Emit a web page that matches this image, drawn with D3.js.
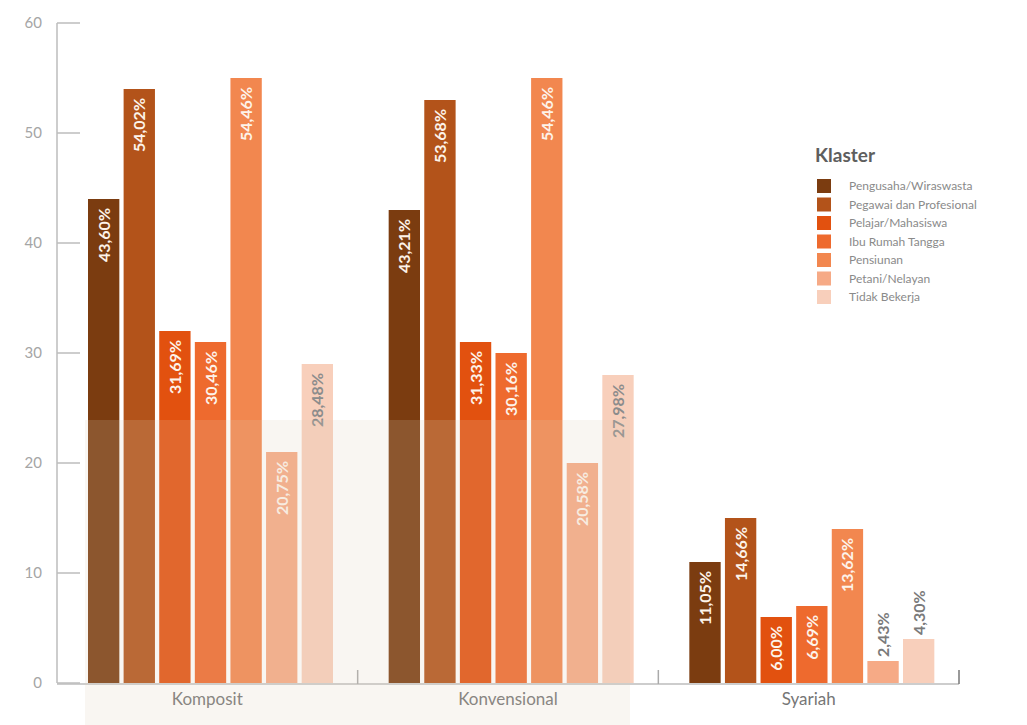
<!DOCTYPE html>
<html>
<head>
  <meta charset="UTF-8">
  <title>Klaster per Jenis</title>
  <script src="https://d3js.org/d3.v7.min.js"></script>
  <style>
    body {
      margin: 0;
      background: #fff;
      font-family: Lato, "Open Sans", sans-serif;
    }
    svg {
      display: block;
    }
    .tick-label {
      font-size: 15px;
      fill: #a5a5a5;
      text-anchor: end;
    }
    .cat-label {
      font-size: 17px;
      fill: #767676;
      text-anchor: middle;
    }
    .bar-label {
      font-size: 16px;
      font-weight: bold;
    }
    .legend-title {
      font-size: 19px;
      font-weight: bold;
      fill: #5e5e5e;
    }
    .legend-text {
      font-size: 12px;
      fill: #8a8a8a;
    }
  </style>
</head>
<body>

  <svg width="1027" height="725"></svg>

  <script>
    // categories and series
    const categories = ["Komposit", "Konvensional", "Syariah"];
    const klaster = [
      "Pengusaha/Wiraswasta",
      "Pegawai dan Profesional",
      "Pelajar/Mahasiswa",
      "Ibu Rumah Tangga",
      "Pensiunan",
      "Petani/Nelayan",
      "Tidak Bekerja"
    ];
    const colors = ["#7b3c10", "#b3531a", "#e2510f", "#ee6a2e", "#f2874f", "#f6aa86", "#f8cfbb"];

    // bar heights as drawn
    const komposit = [44, 54, 32, 31, 55, 21, 29];
    const konvensional = [43, 53, 31, 30, 55, 20, 28];
    const syariah = [11, 15, 6, 7, 14, 2, 4];

    // printed labels
    const kompositLabels = ["43,60%", "54,02%", "31,69%", "30,46%", "54,46%", "20,75%", "28,48%"];
    const konvensionalLabels = ["43,21%", "53,68%", "31,33%", "30,16%", "54,46%", "20,58%", "27,98%"];
    const syariahLabels = ["11,05%", "14,66%", "6,00%", "6,69%", "13,62%", "2,43%", "4,30%"];

    const yTicks = [0, 10, 20, 30, 40, 50, 60];

    const values = [komposit, konvensional, syariah];
    const labels = [kompositLabels, konvensionalLabels, syariahLabels];

    const rows = [];
    categories.forEach((c, ci) => {
      klaster.forEach((k, ki) => {
        rows.push({ cat: c, k: k, ki: ki, val: values[ci][ki], label: labels[ci][ki] });
      });
    });

    const svg = d3.select("svg");

    const x0 = d3.scaleBand()
      .domain(categories)
      .range([57, 959])
      .padding(0);

    const x1 = d3.scaleBand()
      .domain(klaster)
      .range([31, 276])
      .paddingInner(0.12);

    const y = d3.scaleLinear()
      .domain([0, 60])
      .range([683, 23]);

    // y axis
    svg.append("line")
      .attr("x1", 57).attr("x2", 57)
      .attr("y1", y(60)).attr("y2", y(0))
      .attr("stroke", "#bdbdbd").attr("stroke-width", 1.5);

    svg.selectAll(".ytick")
      .data(yTicks)
      .enter()
      .append("line")
      .attr("class", "ytick")
      .attr("x1", 57).attr("x2", 80)
      .attr("y1", d => y(d)).attr("y2", d => y(d))
      .attr("stroke", "#bdbdbd").attr("stroke-width", 1.5);

    svg.selectAll(".tick-label")
      .data(yTicks)
      .enter()
      .append("text")
      .attr("class", "tick-label")
      .attr("x", 42)
      .attr("y", d => y(d) + 5)
      .text(d => d);

    // bars
    svg.selectAll("rect.bar")
      .data(rows)
      .enter()
      .append("rect")
      .attr("class", "bar")
      .attr("x", d => x0(d.cat) + x1(d.k))
      .attr("y", d => y(d.val))
      .attr("width", x1.bandwidth())
      .attr("height", d => y(0) - y(d.val))
      .attr("fill", d => colors[d.ki]);

    // bar labels (rotated)
    svg.selectAll(".bar-label")
      .data(rows)
      .enter()
      .append("text")
      .attr("class", "bar-label")
      .attr("transform", d => {
        const cx = x0(d.cat) + x1(d.k) + x1.bandwidth() / 2 + 6;
        const ty = d.val < 5 ? y(d.val) - 4 : y(d.val) + 9;
        return `translate(${cx},${ty}) rotate(-90)`;
      })
      .attr("text-anchor", d => d.val < 5 ? "start" : "end")
      .attr("fill", d => d.val < 5 ? "#7a7a7a" : (d.ki === 6 ? "#8c8c8c" : "#fdf3ea"))
      .text(d => d.label);

    // x axis
    svg.append("line")
      .attr("x1", 57).attr("x2", 959)
      .attr("y1", 684).attr("y2", 684)
      .attr("stroke", "#bdbdbd").attr("stroke-width", 1.5);

    svg.selectAll(".xtick")
      .data(categories)
      .enter()
      .append("line")
      .attr("class", "xtick")
      .attr("x1", d => x0(d) + x0.bandwidth())
      .attr("x2", d => x0(d) + x0.bandwidth())
      .attr("y1", 684).attr("y2", 670)
      .attr("stroke", (d, i) => i === 2 ? "#777" : "#aaa")
      .attr("stroke-width", 1.5);

    svg.selectAll(".cat-label")
      .data(categories)
      .enter()
      .append("text")
      .attr("class", "cat-label")
      .attr("x", d => x0(d) + x0.bandwidth() / 2)
      .attr("y", 705)
      .text(d => d);

    // faint watermark tint
    svg.append("rect")
      .attr("x", 85).attr("y", 420)
      .attr("width", 545).attr("height", 305)
      .attr("fill", "rgba(224,207,181,0.18)");

    // legend
    const legend = svg.append("g").attr("transform", "translate(815,0)");

    legend.append("text")
      .attr("class", "legend-title")
      .attr("x", 0)
      .attr("y", 162)
      .text("Klaster");

    const item = legend.selectAll(".item")
      .data(klaster)
      .enter()
      .append("g")
      .attr("class", "item")
      .attr("transform", (d, i) => `translate(2,${186 + i * 18.5})`);

    item.append("rect")
      .attr("x", 0).attr("y", -7)
      .attr("width", 14).attr("height", 14)
      .attr("fill", (d, i) => colors[i]);

    item.append("text")
      .attr("class", "legend-text")
      .attr("x", 32)
      .attr("y", 4)
      .text(d => d);
  </script>

</body>
</html>
